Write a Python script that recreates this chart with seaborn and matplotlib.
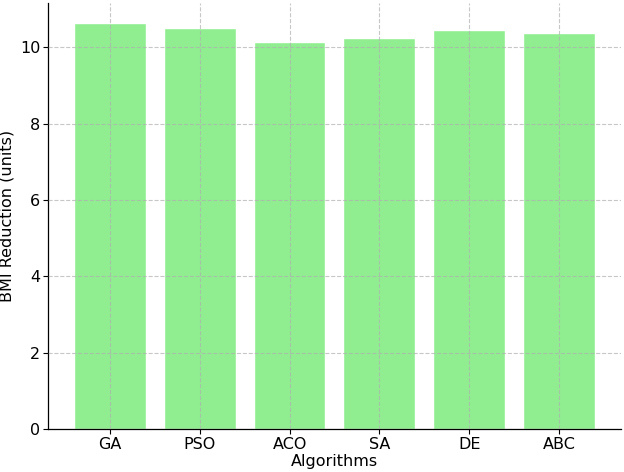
import matplotlib
matplotlib.use("Agg")
import matplotlib.pyplot as plt
import seaborn as sns
import pandas as pd

# ---------- data ----------
algorithms = ["GA", "PSO", "ACO", "SA", "DE", "ABC"]
bmi_reduction = [10.63, 10.50, 10.13, 10.25, 10.44, 10.38]

df = pd.DataFrame({"Algorithm": algorithms, "BMI": bmi_reduction})

sns.set_style("white")
plt.rcParams['font.family'] = ['DejaVu Sans']
plt.rcParams['font.size'] = 11.5
plt.rcParams['text.color'] = 'black'
plt.rcParams['axes.labelcolor'] = 'black'
plt.rcParams['xtick.color'] = 'black'
plt.rcParams['ytick.color'] = 'black'

fig, ax = plt.subplots(figsize=(6.24, 4.72), dpi=100)
fig.subplots_adjust(left=0.077, right=0.995, bottom=0.091, top=0.994)
sns.barplot(data=df, x="Algorithm", y="BMI", color="lightgreen",
            saturation=1, width=0.8, ax=ax)

ax.set_xlim(-0.69, 5.69)
ax.set_ylim(0, max(bmi_reduction) * 1.05)
ax.set_xlabel("Algorithms", fontsize=11.5, labelpad=2)
ax.set_ylabel("BMI Reduction (units)", fontsize=11.5)
ax.grid(True, linestyle="--", color="#b0b0b0", linewidth=0.8, alpha=0.7)
ax.set_axisbelow(False)
ax.tick_params(axis="both", direction="out", length=3.5, width=0.8,
               left=True, bottom=True, labelsize=11.5, pad=2)
for s in ["left", "bottom"]:
    ax.spines[s].set_color("black")
    ax.spines[s].set_linewidth(0.9)
sns.despine(ax=ax)

plt.savefig("out.png", dpi=100)
